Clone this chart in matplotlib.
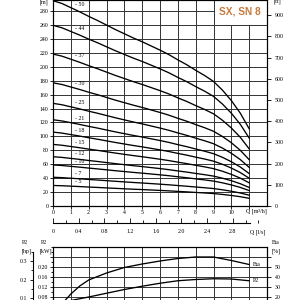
import numpy as np
import matplotlib
matplotlib.use('Agg')
import matplotlib.pyplot as plt
from matplotlib.patches import Rectangle
from matplotlib.ticker import MultipleLocator, FixedLocator

# ---------------- data ----------------
q_pts = [0, 0.5, 1, 1.5, 2, 2.5, 3, 3.5, 4, 4.5, 5, 5.5, 6, 6.5, 7, 7.5, 8, 8.5,
         9, 9.5, 10, 10.5, 11]                                                   # m3/h
head_per_stage = [5.9, 5.82, 5.7, 5.58, 5.45, 5.33, 5.2, 5.07, 4.95, 4.83, 4.72,
                  4.6, 4.48, 4.35, 4.2, 4.06, 3.9, 3.75, 3.58, 3.33, 3.03, 2.67, 2.22]  # m
stages = [5, 7, 10, 12, 15, 18, 21, 25, 30, 37, 44, 50]
stage_labels = ['- 5', '- 7', '- 10', '- 12', '- 15', '- 18', '- 21', '- 25', '- 30', '- 37', '- 44', '- 50']

eta_q = [0, 0.5, 1, 1.5, 2, 3, 4, 5, 6, 7, 8, 9, 10, 11]
eta_vals = [0, 13, 23, 31, 37, 44, 49.5, 53, 56, 58.5, 60, 60, 56.5, 52.5]    # %
p2_q = [0, 1, 2, 3, 4, 5, 6, 7, 8, 9, 10, 11]
p2_vals = [0.05, 0.066, 0.08, 0.095, 0.11, 0.123, 0.135, 0.145, 0.15, 0.153, 0.152, 0.145]  # kW

q_ticks = list(range(0, 12))
q_ticklabels = ['0', '1', '2', '3', '4', '5', '6', '7', '8', '9', '10', '']
m_ticks = list(range(0, 281, 20))
ft_ticks = list(range(0, 901, 100))
ls_major = [0, 0.4, 0.8, 1.2, 1.6, 2.0, 2.4, 2.8]
ls_labels = ['0', '0.4', '0.8', '1.2', '1.6', '2.0', '2.4', '2.8']
kw_ticks = [0, 0.04, 0.08, 0.12, 0.16, 0.20, 0.24]
kw_labels = ['', '', '0.08', '0.12', '0.16', '0.20', '']
eta_ticks = [0, 10, 20, 30, 40, 50, 60]
eta_labels = ['', '', '20', '30', '40', '50', '']
hp_ticks = [0, 0.1, 0.2, 0.3]
hp_labels = ['', '0.1', '0.2', '0.3']

title = 'SX, SN 8'

# ---------------- style ----------------
SERIF = ['Liberation Serif', 'DejaVu Serif']
FS = 4.2
GRID = '#333333'
W = H = 300.0

def fig_rect(x0, y0, x1, y1):
    return [x0 / W, 1 - y1 / H, (x1 - x0) / W, (y1 - y0) / H]

fig = plt.figure(figsize=(3, 3), dpi=100)
fig.patch.set_facecolor('white')

# ---------------- top chart ----------------
ax = fig.add_axes(fig_rect(53, 0, 267, 206))
ax.set_xlim(0, 12)
ax.set_ylim(0, 296)
ax.set_axisbelow(True)
ax.set_xticks(q_ticks)
ax.set_xticklabels(q_ticklabels)
ax.set_yticks(m_ticks)
ax.set_yticklabels([str(v) for v in m_ticks])
ax.grid(True, color=GRID, linewidth=0.7)
ax.tick_params(axis='both', length=2, width=0.6, pad=1.2, labelsize=FS, colors='black')
for lab in ax.get_xticklabels() + ax.get_yticklabels():
    lab.set_family(SERIF)
for s in ax.spines.values():
    s.set_linewidth(0.8)

# title box
ax.add_patch(Rectangle((9, 260), 3, 60, facecolor='white', edgecolor=GRID,
                       linewidth=0.7, zorder=1))
ax.text(10.5, 279.5, title, ha='center', va='center', fontsize=7.3,
        fontweight='bold', color='#c87a3c',
        family=['Liberation Sans', 'DejaVu Sans'], zorder=3)

q_arr = np.array(q_pts, dtype=float)
h_arr = np.array(head_per_stage, dtype=float)
for n, lab in zip(stages, stage_labels):
    ax.plot(q_arr, n * h_arr, color='black', linewidth=0.95, zorder=2)
    yl = n * np.interp(1.25, q_arr, h_arr)
    ax.annotate(lab, xy=(1.25, yl), xytext=(0, 1.8), textcoords='offset points',
                ha='left', va='bottom', fontsize=FS, family=SERIF, zorder=3)

ax.text(11.4, -4.0, 'Q [m³/h]', ha='center', va='top', fontsize=FS, family=SERIF,
        clip_on=False)

axft = ax.twinx()
axft.set_ylim(0, 296 * 3.28084)
axft.set_yticks(ft_ticks)
axft.set_yticklabels([str(v) for v in ft_ticks])
axft.tick_params(axis='y', length=3, width=0.6, pad=2.5, labelsize=FS)
for lab in axft.get_yticklabels():
    lab.set_family(SERIF)
for s in axft.spines.values():
    s.set_linewidth(0.8)

fig.text(44 / W, 1 - 1.8 / H, '[m]', ha='center', va='center', fontsize=FS, family=SERIF)
fig.text(277 / W, 1 - 1.8 / H, '[ft]', ha='center', va='center', fontsize=FS, family=SERIF)

# ---------------- l/s axis ----------------
axl = fig.add_axes(fig_rect(53, 222.5, 267, 223))
axl.set_xlim(0, 12 / 3.6)
axl.set_ylim(0, 1)
axl.patch.set_visible(False)
for k in ['top', 'left', 'right']:
    axl.spines[k].set_visible(False)
axl.spines['bottom'].set_bounds(0, 3.07)
axl.spines['bottom'].set_linewidth(0.8)
axl.set_yticks([])
axl.xaxis.set_major_locator(FixedLocator(ls_major))
axl.set_xticklabels(ls_labels)
axl.xaxis.set_minor_locator(MultipleLocator(0.2))
axl.tick_params(axis='x', which='major', direction='in', length=3.5, width=0.6,
                pad=4, labelsize=FS)
axl.tick_params(axis='x', which='minor', direction='in', length=2.5, width=0.6)
for lab in axl.get_xticklabels():
    lab.set_family(SERIF)
fig.text(258 / W, 1 - 232 / H, 'Q [l/s]', ha='center', va='center', fontsize=FS, family=SERIF)

# ---------------- bottom chart ----------------
axb = fig.add_axes(fig_rect(53, 247, 267, 317))
axb.set_xlim(0, 12)
axb.set_ylim(0, 0.28)
axb.set_axisbelow(True)
axb.set_xticks(q_ticks)
axb.set_xticklabels([])
axb.set_yticks(kw_ticks)
axb.set_yticklabels(kw_labels)
axb.yaxis.set_minor_locator(MultipleLocator(0.02))
axb.grid(True, which='major', color=GRID, linewidth=0.7)
axb.tick_params(axis='y', which='major', length=2.5, width=0.6, pad=1.2, labelsize=FS)
axb.tick_params(axis='y', which='minor', length=1.5, width=0.6)
axb.tick_params(axis='x', length=0)
for lab in axb.get_yticklabels():
    lab.set_family(SERIF)
for s in axb.spines.values():
    s.set_linewidth(0.8)
axb.plot(p2_q, p2_vals, color='black', linewidth=0.95, zorder=2)
axb.text(11.2, p2_vals[-1], 'P2', ha='left', va='center', fontsize=FS, family=SERIF)

axe = axb.twinx()
axe.set_ylim(0, 70)
axe.set_yticks(eta_ticks)
axe.set_yticklabels(eta_labels)
axe.tick_params(axis='y', length=3, width=0.6, pad=2.5, labelsize=FS)
for lab in axe.get_yticklabels():
    lab.set_family(SERIF)
axe.plot(eta_q, eta_vals, color='black', linewidth=0.95, zorder=2)
axe.text(11.2, eta_vals[-1], 'Eta', ha='left', va='center', fontsize=FS, family=SERIF)

axh = axb.twinx()
axh.set_ylim(0, 0.28 / 0.7457)
for k in ['top', 'right', 'bottom']:
    axh.spines[k].set_visible(False)
axh.spines['left'].set_visible(True)
axh.spines['left'].set_position(('outward', 14.4))
axh.spines['left'].set_bounds(0, 0.35)
axh.spines['left'].set_linewidth(0.8)
axh.yaxis.set_ticks_position('left')
axh.set_yticks(hp_ticks)
axh.set_yticklabels(hp_labels)
axh.yaxis.set_minor_locator(MultipleLocator(0.05))
axh.tick_params(axis='y', which='major', length=2.5, width=0.6, pad=1.5, labelsize=FS)
axh.tick_params(axis='y', which='minor', length=1.5, width=0.6)
for lab in axh.get_yticklabels():
    lab.set_family(SERIF)

fig.text(25 / W, 1 - 243 / H, 'P2', ha='center', va='center', fontsize=FS, family=SERIF)
fig.text(27 / W, 1 - 251 / H, '[hp]', ha='center', va='center', fontsize=FS, family=SERIF)
fig.text(44 / W, 1 - 243 / H, 'P2', ha='center', va='center', fontsize=FS, family=SERIF)
fig.text(46 / W, 1 - 251 / H, '[kW]', ha='center', va='center', fontsize=FS, family=SERIF)
fig.text(276 / W, 1 - 243 / H, 'Eta', ha='center', va='center', fontsize=FS, family=SERIF)
fig.text(276 / W, 1 - 251 / H, '[%]', ha='center', va='center', fontsize=FS, family=SERIF)

fig.savefig('out.png', dpi=100)
